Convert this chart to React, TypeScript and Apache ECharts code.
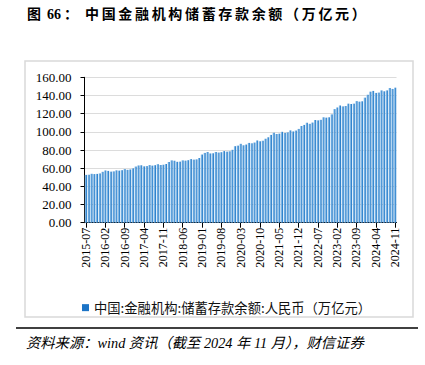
import React, { useEffect, useRef } from "react";
import * as echarts from "echarts";

const titlePrefix = ["图", "66", "："];
const titleMain = "中国金融机构储蓄存款余额（万亿元）";
const seriesName = "中国:金融机构:储蓄存款余额:人民币（万亿元）";
const sourceText = "资料来源：wind 资讯（截至 2024 年 11 月），财信证券";

const startYear = 2015;
const startMonth = 7;
const monthCount = 113;
const categories: string[] = [];
for (let i = 0; i < monthCount; i++) {
  const m = startMonth - 1 + i;
  const y = startYear + Math.floor(m / 12);
  const mm = (m % 12) + 1;
  categories.push(`${y}-${mm < 10 ? "0" + mm : mm}`);
}

const savingsDeposits = [
  52.6, 52.8, 53.8, 53.5, 53.7, 54.2,
  56.0, 57.5, 57.0, 56.2, 56.5, 57.6, 57.3, 57.8, 59.0, 58.2, 58.6, 59.8,
  61.8, 63.0, 63.2, 62.0, 62.3, 63.4, 62.8, 63.3, 64.4, 63.5, 63.8, 64.6,
  66.8, 68.6, 68.2, 67.0, 67.2, 68.6, 68.3, 68.8, 70.0, 69.4, 69.7, 71.2,
  75.0, 76.8, 77.8, 76.2, 76.4, 77.8, 77.2, 77.6, 78.8, 78.2, 78.6, 80.2,
  84.2, 84.8, 86.8, 85.2, 86.0, 87.8, 87.4, 88.2, 90.5, 89.6, 90.2, 92.4,
  94.0, 96.6, 99.0, 97.6, 98.0, 100.0, 98.8, 99.4, 101.6, 100.4, 101.4, 103.2,
  106.4, 107.6, 110.0, 108.8, 110.2, 113.0, 112.6, 113.2, 116.0, 115.6, 116.0, 119.2,
  125.0, 126.8, 129.0, 128.0, 128.4, 131.0, 130.6, 131.0, 133.8, 133.2, 133.6, 137.6,
  140.8, 144.2, 145.0, 142.8, 143.2, 145.6, 144.6, 145.6, 148.2, 147.2, 148.6,
];

const yMin = 0;
const yMax = 160;
const yInterval = 20;

export default function App() {
  const ref = useRef<HTMLDivElement>(null);
  useEffect(() => {
    if (!ref.current) return;
    const chart = echarts.init(ref.current, undefined, { renderer: "svg" });
    const serif = "'Liberation Serif', 'Times New Roman', serif";
    const titleFont = "'Liberation Serif', 'Noto Sans CJK SC', serif";

    const titleStyle = {
      fontFamily: titleFont,
      fontWeight: "bold",
      fontSize: 14,
      fill: "#000",
    };
    const titleGraphics: any[] = [];
    const prefixX = [27, 47, 64];
    titlePrefix.forEach((t, i) => {
      titleGraphics.push({
        type: "text",
        x: prefixX[i],
        y: 14,
        style: { ...titleStyle, text: t, verticalAlign: "middle" },
      });
    });
    Array.from(titleMain).forEach((ch, i) => {
      titleGraphics.push({
        type: "text",
        x: 85 + i * 16.67,
        y: 14,
        style: { ...titleStyle, text: ch, verticalAlign: "middle" },
      });
    });

    chart.setOption({
      animation: false,
      backgroundColor: "#ffffff",
      grid: { left: 84.5, right: 28.5, top: 77.3, bottom: 142.3 },
      legend: {
        left: 77,
        top: 296,
        icon: "rect",
        itemWidth: 7,
        itemHeight: 7,
        itemGap: 4,
        textStyle: {
          fontFamily: "'Noto Sans CJK SC', sans-serif",
          fontSize: 13.3,
          color: "#111",
        },
        data: [{ name: seriesName, itemStyle: { color: "#1c74c6" } }],
      },
      xAxis: {
        type: "category",
        data: categories,
        boundaryGap: true,
        axisLine: { show: true, lineStyle: { color: "#000", width: 1 } },
        axisTick: {
          show: true,
          alignWithLabel: true,
          interval: 6,
          length: 5,
          lineStyle: { color: "#000" },
        },
        axisLabel: {
          interval: 6,
          rotate: 90,
          margin: 5,
          fontFamily: serif,
          fontSize: 12,
          color: "#000",
        },
        splitLine: { show: false },
      },
      yAxis: {
        type: "value",
        min: yMin,
        max: yMax,
        interval: yInterval,
        axisLine: { show: true, lineStyle: { color: "#000", width: 1 } },
        axisTick: { show: true, length: 4, lineStyle: { color: "#000" } },
        axisLabel: {
          margin: 13,
          fontFamily: serif,
          fontSize: 13,
          color: "#000",
          formatter: (v: number) => v.toFixed(2),
        },
        splitLine: { show: true, lineStyle: { color: "#dcdcdc", width: 1.2 } },
      },
      series: [
        {
          name: seriesName,
          type: "bar",
          data: savingsDeposits,
          barCategoryGap: "22%",
          itemStyle: {
            color: new echarts.graphic.LinearGradient(0, 0, 1, 0, [
              { offset: 0, color: "#a8d0f0" },
              { offset: 0.5, color: "#5fa3de" },
              { offset: 1, color: "#0a68bd" },
            ]),
          },
        },
      ],
      graphic: [
        ...titleGraphics,
        {
          type: "rect",
          shape: { x: 25, y: 61, width: 388, height: 256 },
          style: { fill: "none", stroke: "#d9d9d9", lineWidth: 1.5 },
          silent: true,
        },
        {
          type: "line",
          shape: { x1: 16, y1: 328, x2: 418, y2: 328 },
          style: { stroke: "#000", lineWidth: 1.5 },
        },
        {
          type: "text",
          x: 26,
          y: 343,
          style: {
            text: sourceText,
            fontFamily: "'Liberation Serif', 'Noto Sans CJK SC', serif",
            fontStyle: "italic",
            fontSize: 14.3,
            fill: "#000",
            verticalAlign: "middle",
          },
        },
      ],
    });
    return () => chart.dispose();
  }, []);
  return (
    <div
      ref={ref}
      style={{ position: "fixed", left: 0, top: 0, width: 425, height: 365 }}
    />
  );
}
